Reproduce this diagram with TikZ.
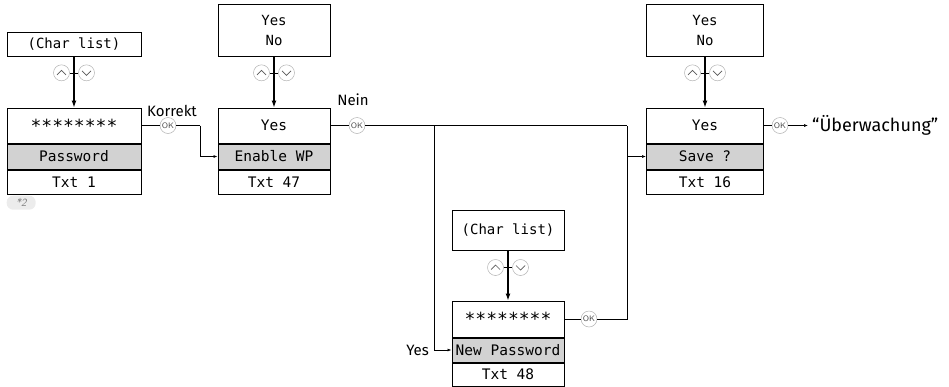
\documentclass[tikz,border=0pt]{standalone}
\usepackage{fontspec}
\newfontfamily\lcdfont{DejaVu Sans Mono}
\newfontfamily\labelfont{Fira Sans}
\usetikzlibrary{arrows.meta,calc,positioning}

% up/down keys around a push arrow
\newcommand\updown[1]{%
  \node[key] (#1u) at ([xshift=-12.5pt]#1) {};
  \node[key] (#1d) at ([xshift=12.5pt]#1) {};
  \draw[wire] (#1u) -- (#1d);
  \draw[chev] ([shift={(-4.5pt,-2pt)}]#1u.center) -- ++(4.5pt,4.5pt) -- ++(4.5pt,-4.5pt);
  \draw[chev] ([shift={(-4.5pt,2pt)}]#1d.center) -- ++(4.5pt,-4.5pt) -- ++(4.5pt,4.5pt);
}
% big centred asterisks
\newcommand\stars{{\fontsize{18}{18}\selectfont\raisebox{-0.3em}{********}}}

\begin{document}
\begin{tikzpicture}[x=1pt,y=1pt,
  lcd/.style={draw,line width=1pt,inner sep=0pt,minimum height=35pt,
    font=\lcdfont\fontsize{14.5}{17}\selectfont},
  lcdname/.style={lcd,fill=gray!35,minimum height=25pt},
  lcdtxt/.style={lcd,minimum height=24pt},
  menu/.style={lcd,align=center,font=\lcdfont\fontsize{14}{20}\selectfont},
  key/.style={circle,draw=gray!60,line width=0.5pt,fill=white,minimum size=16pt,inner sep=0pt},
  okkey/.style={key,font=\sffamily\fontsize{8}{8}\selectfont,text=gray!60!black},
  chev/.style={gray!70!black,line width=0.7pt},
  wire/.style={line width=0.6pt},
  feed/.style={wire,-{Latex[length=4pt,width=3pt]}},
  push/.style={line width=1.2pt,-{Latex[length=7pt,width=5pt]}},
  lbl/.style={font=\labelfont\fontsize{15}{17}\selectfont,inner sep=1pt}]
  \useasboundingbox (0,0) rectangle (949,-386);

  % password entry
  \node[lcd,minimum width=134pt] (pw) at (74,-125.5) {\stars};
  \node[lcdname,minimum width=134pt,below=0pt of pw] (pwn) {Password};
  \node[lcdtxt,minimum width=134pt,below=0pt of pwn] (pwt) {Txt 1};
  \node[menu,minimum width=134pt,minimum height=24pt,above=51pt of pw] (cl1) {(Char list)};
  \node[fill=gray!15,rounded corners=6.5pt,inner sep=1pt,minimum width=29pt,minimum height=14pt,
    text=gray,font=\sffamily\itshape\fontsize{11}{11}\selectfont,
    below right=1pt and 0pt of pwt.south west] (n2) {*2};

  % enable WP
  \node[lcd,minimum width=112pt] (wp) at (274,-125.5) {Yes};
  \node[lcdname,minimum width=112pt,below=0pt of wp] (wpn) {Enable WP};
  \node[lcdtxt,minimum width=112pt,below=0pt of wpn] (wpt) {Txt 47};
  \node[menu,minimum width=112pt,minimum height=52pt,above=51pt of wp] (yn2) {Yes\\No};

  % save
  \node[lcd,minimum width=117pt] (sv) at (705,-125.5) {Yes};
  \node[lcdname,minimum width=117pt,below=0pt of sv] (svn) {Save ?};
  \node[lcdtxt,minimum width=117pt,below=0pt of svn] (svt) {Txt 16};
  \node[menu,minimum width=117pt,minimum height=52pt,above=51pt of sv] (yn3) {Yes\\No};

  % new password
  \node[lcd,minimum width=112pt,minimum height=36pt] (np) at (508,-319) {\stars};
  \node[lcdname,minimum width=112pt,minimum height=24pt,below=0pt of np] (npn) {New Password};
  \node[lcdtxt,minimum width=112pt,minimum height=23pt,below=0pt of npn] (npt) {Txt 48};
  \node[menu,minimum width=112pt,minimum height=40pt,above=50pt of np] (cl4) {(Char list)};

  % selection arrows
  \draw[push] (cl1) -- (pw);
  \draw[push] (yn2) -- (wp);
  \draw[push] (yn3) -- (sv);
  \draw[push] (cl4) -- (np);
  \coordinate (k1) at ($(cl1.south)!0.32!(pw.north)$);
  \coordinate (k2) at ($(yn2.south)!0.32!(wp.north)$);
  \coordinate (k3) at ($(yn3.south)!0.32!(sv.north)$);
  \coordinate (k4) at ($(cl4.south)!0.34!(np.north)$);
  \updown{k1}
  \updown{k2}
  \updown{k3}
  \updown{k4}

  % OK keys
  \node[okkey] (ok1) at (168,-125.5) {OK};
  \node[okkey] (ok2) at (357,-125.5) {OK};
  \node[okkey] (ok3) at (780,-125.5) {OK};
  \node[okkey] (ok4) at (589,-319) {OK};
  \coordinate (j1) at (200,-125.5);
  \coordinate (j2) at (434,-125.5);
  \coordinate (j3) at (627,-125.5);

  \draw[wire] (pw) -- (ok1) -- (j1);
  \draw[feed] (j1) |- (wpn.west);
  \draw[wire] (wp) -- (ok2) -- (j3);
  \draw[feed] (j2) |- (npn.west);
  \draw[wire] (np) -- (ok4) -| (j3);
  \draw[feed] (j3 |- svn.west) -- (svn.west);
  \draw[wire] (sv) -- (ok3);
  \node[font=\labelfont\fontsize{18}{20}\selectfont,anchor=west,inner xsep=4pt,inner ysep=0pt] (ueb) at (808,-125.5) {“Überwachung”};
  \draw[feed] (ok3) -- (ueb);

  % labels
  \node[lbl] (korrekt) at (172,-111) {Korrekt};
  \node[lbl] (nein) at (353,-100) {Nein};
  \node[lbl,left=4pt of j2 |- npn.west] (yes4) {Yes};
\end{tikzpicture}
\end{document}
